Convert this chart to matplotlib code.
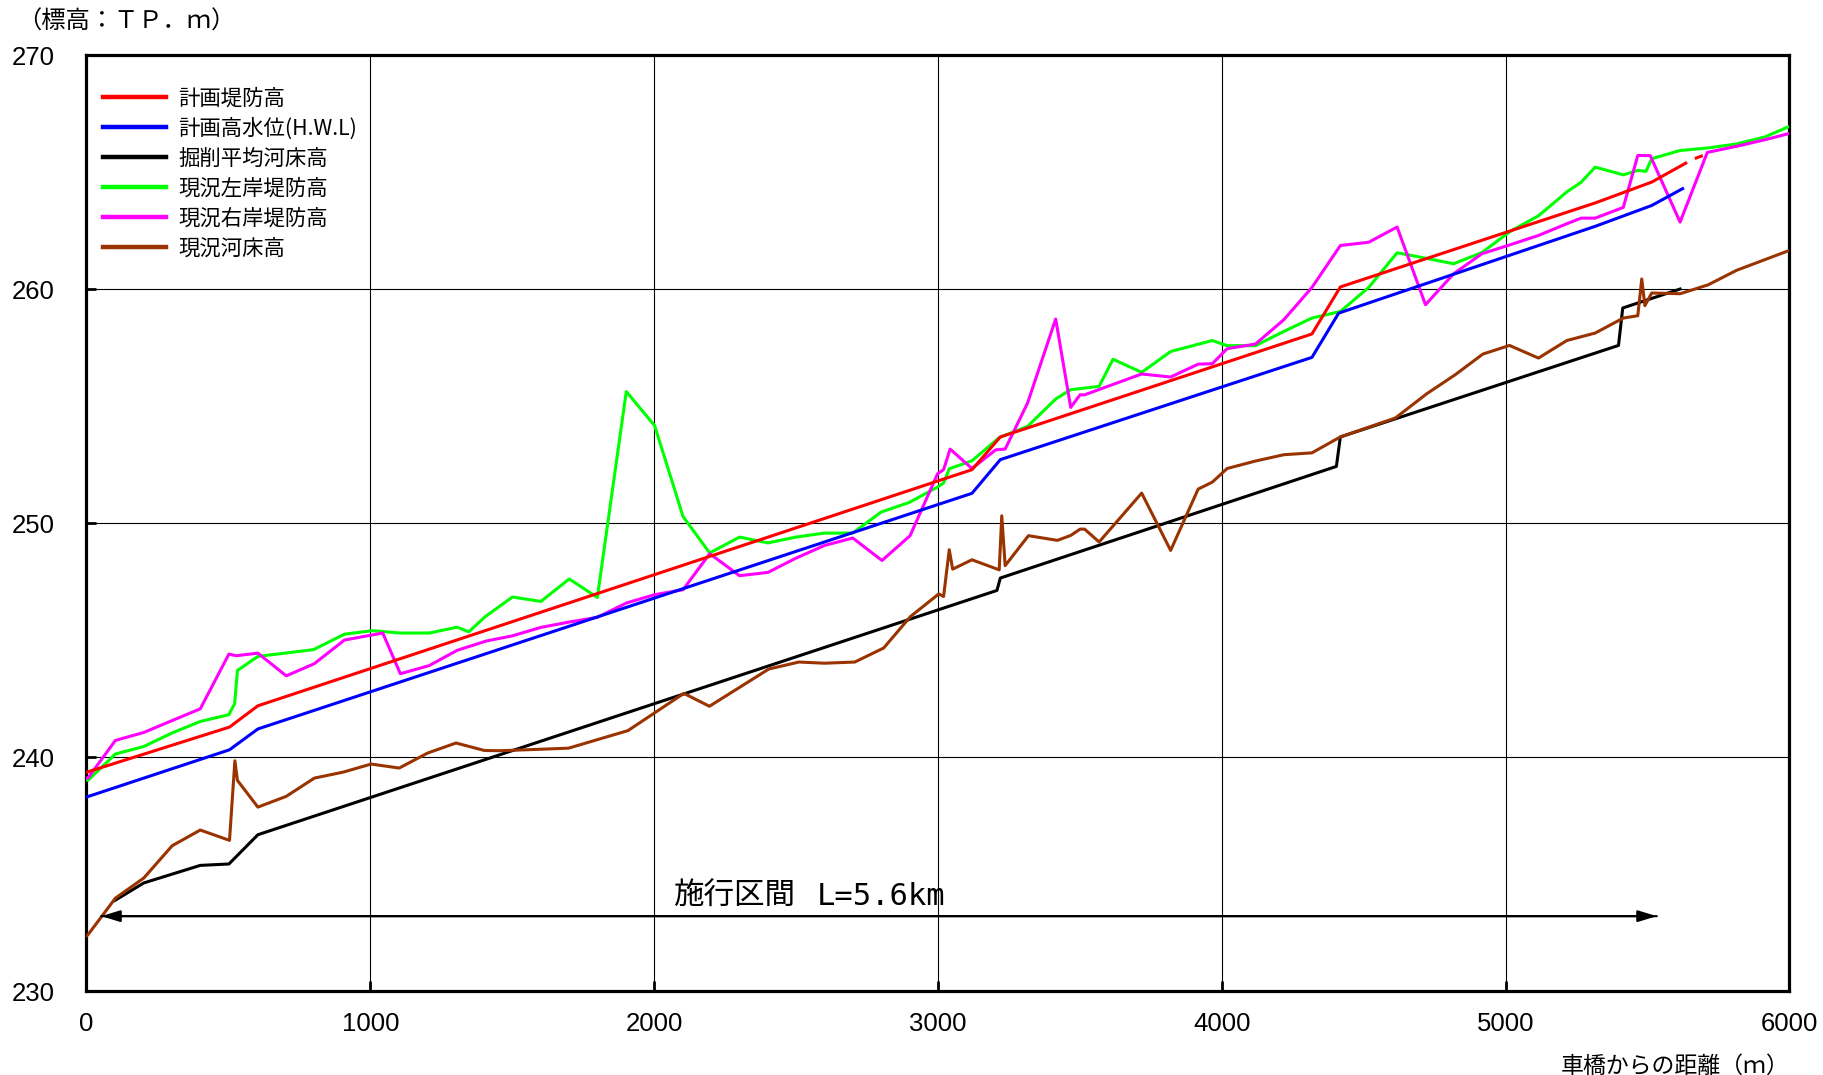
import matplotlib
matplotlib.use("Agg")
import matplotlib.pyplot as plt
from matplotlib.lines import Line2D

plt.rcParams['font.family'] = ['Noto Sans CJK JP', 'DejaVu Sans']

# 計画堤防高
plan_levee_x = [0, 504, 604, 3120, 3220, 4318, 4418, 5316, 5515, 5635]
plan_levee_y = [239.35, 241.28, 242.19, 252.28, 253.68, 258.08, 260.09, 263.68, 264.57, 265.38]
plan_levee_ext_x = [5672, 5690]
plan_levee_ext_y = [265.60, 265.68]

# 計画高水位(H.W.L)
hwl_x = [0, 504, 604, 3120, 3220, 4318, 4412, 5316, 5515, 5624]
hwl_y = [238.29, 240.31, 241.2, 251.27, 252.71, 257.08, 258.97, 262.68, 263.57, 264.29]

# 掘削平均河床高
dig_x = [100, 202, 401, 502, 604, 3208, 3220, 4404, 4418, 5398, 5413, 5615]
dig_y = [233.87, 234.62, 235.37, 235.43, 236.68, 247.12, 247.65, 252.42, 253.68, 257.59, 259.19, 260.0]

# 現況左岸堤防高
left_x = [0, 5, 102, 202, 302, 401, 502, 522, 532, 604, 800, 909, 1007, 1106, 1208, 1306,
          1347, 1405, 1501, 1601, 1701, 1800, 1902, 2002, 2102, 2196, 2301, 2401, 2500, 2600,
          2700, 2800, 2899, 2999, 3020, 3040, 3120, 3216, 3316, 3415, 3468, 3568, 3617, 3718,
          3820, 3967, 4019, 4119, 4219, 4318, 4418, 4518, 4618, 4718, 4817, 4917, 5016, 5116,
          5216, 5266, 5316, 5415, 5466, 5495, 5515, 5615, 5714, 5814, 5914, 6000]
left_y = [239.06, 239.0, 240.13, 240.45, 241.03, 241.52, 241.81, 242.28, 243.7, 244.3, 244.59,
          245.25, 245.4, 245.3, 245.3, 245.55, 245.35, 246.0, 246.84, 246.65, 247.61, 246.82,
          255.62, 254.16, 250.28, 248.72, 249.4, 249.15, 249.4, 249.57, 249.57, 250.47, 250.88,
          251.54, 251.71, 252.32, 252.66, 253.65, 254.13, 255.3, 255.7, 255.84, 257.0, 256.44,
          257.33, 257.8, 257.58, 257.58, 258.19, 258.76, 259.04, 260.07, 261.55, 261.32, 261.08,
          261.56, 262.46, 263.13, 264.15, 264.56, 265.21, 264.88, 265.07, 265.03, 265.57, 265.92,
          266.03, 266.2, 266.5, 266.95]

# 現況右岸堤防高
right_x = [0, 5, 102, 202, 302, 401, 502, 528, 604, 704, 803, 909, 1044, 1106, 1208, 1306,
           1409, 1501, 1601, 1701, 1800, 1902, 2002, 2102, 2196, 2301, 2401, 2500, 2600, 2700,
           2803, 2902, 2999, 3020, 3043, 3120, 3204, 3237, 3316, 3415, 3468, 3501, 3517, 3614,
           3718, 3820, 3917, 3967, 4019, 4119, 4219, 4318, 4418, 4518, 4618, 4718, 4817, 4917,
           5016, 5116, 5216, 5266, 5316, 5415, 5466, 5510, 5615, 5711, 5814, 5914, 6000]
right_y = [239.1, 239.1, 240.71, 241.05, 241.56, 242.06, 244.4, 244.33, 244.44, 243.47, 243.99,
           245.0, 245.3, 243.56, 243.91, 244.56, 244.96, 245.18, 245.54, 245.77, 245.97, 246.58,
           246.94, 247.15, 248.69, 247.75, 247.89, 248.5, 249.04, 249.36, 248.4, 249.46, 252.11,
           252.28, 253.16, 252.33, 253.13, 253.16, 255.13, 258.72, 254.94, 255.48, 255.48, 255.91,
           256.37, 256.24, 256.79, 256.81, 257.45, 257.65, 258.69, 260.07, 261.86, 262.0, 262.65,
           259.33, 260.65, 261.51, 261.89, 262.29, 262.79, 263.03, 263.03, 263.49, 265.71, 265.7,
           262.86, 265.84, 266.1, 266.38, 266.65]

# 現況河床高
bed_x = [0, 5, 102, 202, 302, 401, 504, 523, 532, 604, 704, 803, 906, 1003, 1102, 1202, 1302,
         1402, 1457, 1593, 1699, 1802, 1908, 2105, 2195, 2404, 2510, 2600, 2707, 2809, 2903, 3003,
         3020, 3040, 3052, 3120, 3216, 3225, 3237, 3319, 3421, 3468, 3501, 3517, 3568, 3718,
         3820, 3917, 3967, 4019, 4119, 4219, 4318, 4418, 4612, 4723, 4823, 4920, 5014, 5116,
         5216, 5316, 5415, 5466, 5480, 5491, 5515, 5615, 5714, 5814, 6000]
bed_y = [232.36, 232.4, 233.97, 234.83, 236.21, 236.88, 236.44, 239.84, 239.0, 237.86, 238.32,
         239.1, 239.36, 239.7, 239.53, 240.17, 240.6, 240.28, 240.27, 240.33, 240.38, 240.75,
         241.13, 242.72, 242.17, 243.76, 244.06, 244.01, 244.06, 244.66, 246.0, 246.97, 246.86,
         248.86, 248.03, 248.43, 248.0, 250.31, 248.18, 249.46, 249.26, 249.47, 249.74, 249.74,
         249.19, 251.28, 248.83, 251.45, 251.75, 252.33, 252.65, 252.92, 253.0, 253.68, 254.49,
         255.53, 256.34, 257.22, 257.59, 257.05, 257.8, 258.12, 258.76, 258.86, 260.43, 259.29,
         259.83, 259.8, 260.18, 260.8, 261.65]

labels = ['計画堤防高', '計画高水位(H.W.L)', '掘削平均河床高', '現況左岸堤防高', '現況右岸堤防高', '現況河床高']
colors = ['#ff0000', '#0000ff', '#000000', '#00ff00', '#ff00ff', '#993300']

x_ticks = [0, 1000, 2000, 3000, 4000, 5000, 6000]
y_ticks = [230, 240, 250, 260, 270]

section_start, section_end, section_y = 52, 5533, 233.2

fig = plt.figure(figsize=(18.24, 10.75), dpi=100)
ax = fig.add_axes([0.0474, 0.0781, 0.9336, 0.8707])

lw = 2.2
ax.plot(left_x, left_y, color=colors[3], lw=lw, zorder=3)
ax.plot(right_x, right_y, color=colors[4], lw=lw, zorder=4)
ax.plot(plan_levee_x, plan_levee_y, color=colors[0], lw=lw, zorder=5)
ax.plot(plan_levee_ext_x, plan_levee_ext_y, color=colors[0], lw=lw, zorder=5)
ax.plot(hwl_x, hwl_y, color=colors[1], lw=lw, zorder=5)
ax.plot(dig_x, dig_y, color=colors[2], lw=lw, zorder=5)
ax.plot(bed_x, bed_y, color=colors[5], lw=lw, zorder=6)

ax.set_xlim(0, 6000)
ax.set_ylim(230, 270)
ax.set_xticks(x_ticks)
ax.set_yticks(y_ticks)
ax.grid(True, color='black', lw=0.8)
ax.set_axisbelow(True)
for s in ax.spines.values():
    s.set_linewidth(2.3)
ax.tick_params(direction='in', length=7, width=2, labelsize=18.5,
               labelfontfamily='Liberation Sans')
ax.tick_params(axis='y', pad=23)
ax.tick_params(axis='x', pad=15)

# 施行区間 arrow
head = '-|>,head_length=1.15,head_width=0.35'
ax.annotate('', xy=(section_end, section_y), xytext=(section_start, section_y),
            arrowprops=dict(arrowstyle=head, color='black', lw=1.5, shrinkA=0, shrinkB=0), zorder=7)
ax.annotate('', xy=(section_start, section_y), xytext=(section_end, section_y),
            arrowprops=dict(arrowstyle=head, color='black', lw=1.5, shrinkA=0, shrinkB=0), zorder=7)
t1 = ax.text(2069, 233.7, '施行区間', fontsize=22, va='baseline', ha='left')
ax.annotate('L=5.6km', xy=(1, 0.22), xycoords=t1, xytext=(15, 0), textcoords='offset points',
            fontsize=22, family='DejaVu Sans Mono', va='baseline', ha='left')

handles = [Line2D([], [], color=c, lw=3.2) for c in colors]
ax.legend(handles, labels, loc='upper left', bbox_to_anchor=(0.010, 0.965),
          frameon=False, fontsize=15.4, handlelength=2.94, handletextpad=0.55,
          labelspacing=0.37, borderpad=0, borderaxespad=0)

fig.text(17 / 1824, 1 - 21.7 / 1075, '（標高：ＴＰ．ｍ）', fontsize=17.5, va='center', ha='left')
fig.text(1790 / 1824, 1 - 1066 / 1075, '車橋からの距離（ｍ）', fontsize=16.5, va='center', ha='right')

fig.savefig('out.png', dpi=100)
